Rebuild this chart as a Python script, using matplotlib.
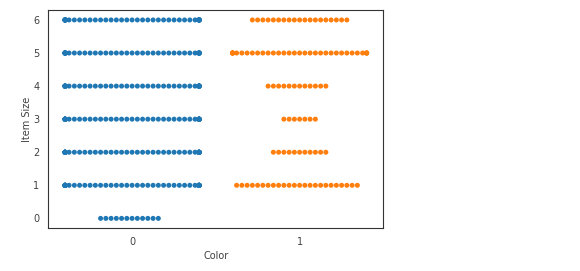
import numpy as np
import pandas as pd
import matplotlib
matplotlib.use('Agg')
import matplotlib.pyplot as plt
import seaborn as sns
import warnings

warnings.filterwarnings('ignore')

# number of items per (color, item size)
item_sizes = [0, 1, 2, 3, 4, 5, 6]
counts_color0 = [12, 45, 45, 45, 45, 45, 45]
counts_color1 = [0, 24, 11, 7, 12, 34, 19]

rows = []
for size, n in zip(item_sizes, counts_color0):
    rows += [(0, size)] * n
for size, n in zip(item_sizes, counts_color1):
    rows += [(1, size)] * n
df = pd.DataFrame(rows, columns=['Color', 'Item Size'])

sns.set_style('white')
plt.rcParams['font.family'] = ['DejaVu Sans']

fig = plt.figure(figsize=(5.8, 2.71), dpi=100)
ax = fig.add_axes([0.0833, 0.1576, 0.5777, 0.8054])

sns.swarmplot(data=df, x='Color', y='Item Size', hue='Color',
              palette=['#1f77b4', '#ff7f0e'], size=3.6, legend=False, ax=ax)

ax.set_ylim(-0.3, 6.3)
ax.set_xlim(-0.5, 1.5)
ax.tick_params(labelsize=7, colors='.25', pad=3)
ax.set_xlabel('Color', fontsize=7, color='.25', labelpad=3)
ax.set_ylabel('Item Size', fontsize=7, color='.25', labelpad=1)
for s in ax.spines.values():
    s.set_color('.2')
    s.set_linewidth(0.8)

fig.savefig('out.png', dpi=100)
